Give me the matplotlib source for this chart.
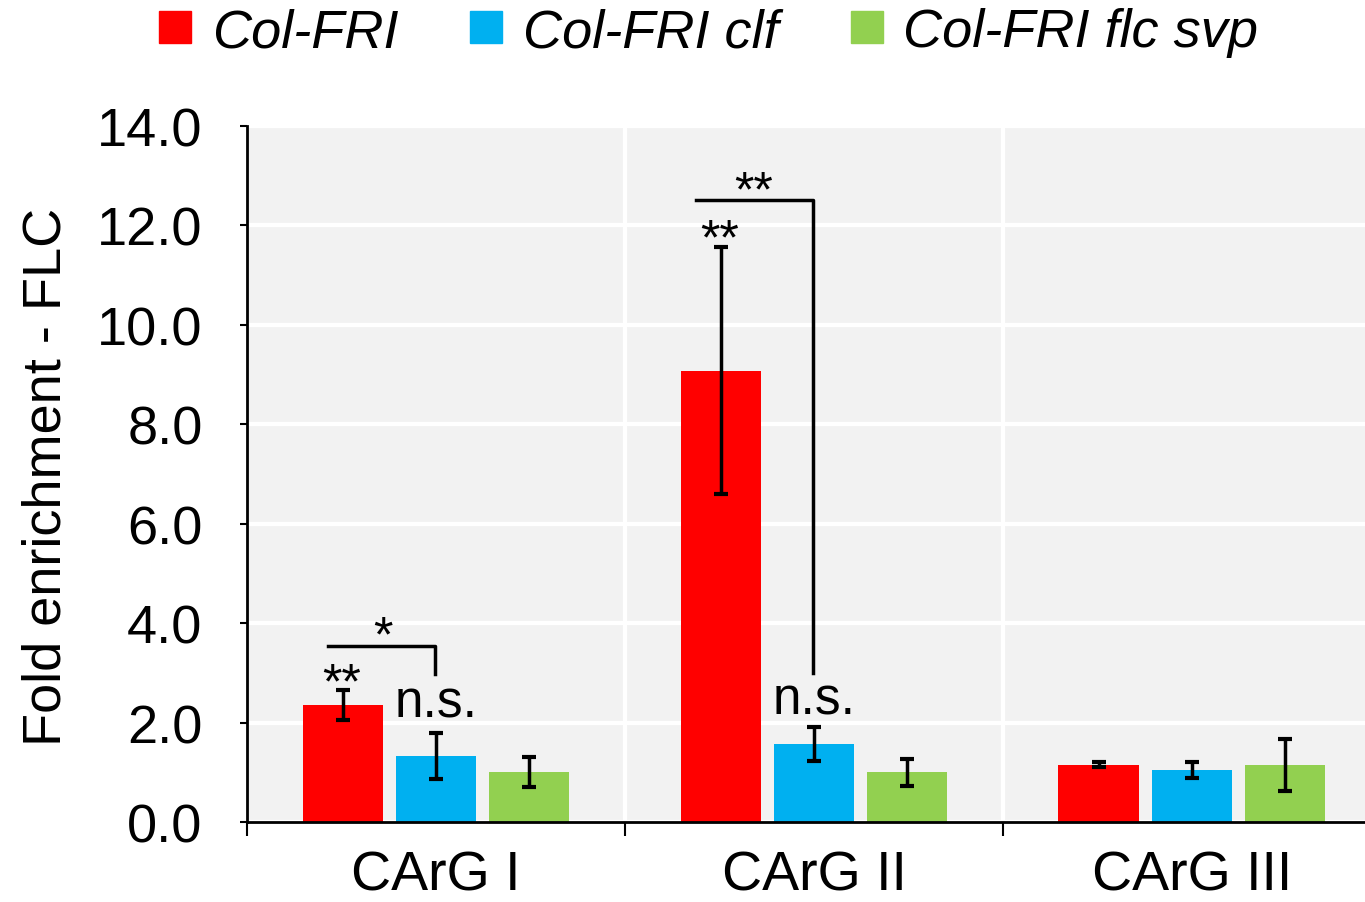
import numpy as np
import matplotlib
matplotlib.use("Agg")
import matplotlib.pyplot as plt
from matplotlib.lines import Line2D

plt.rcParams['font.family'] = ['Liberation Sans', 'DejaVu Sans']

# ---- data -------------------------------------------------------------
groups = ["CArG I", "CArG II", "CArG III"]
genotypes = ["Col-FRI", "Col-FRI clf", "Col-FRI flc svp"]
colors = ["#ff0000", "#00b0f0", "#92d050"]

col_fri = [2.35, 9.08, 1.15]
col_fri_err = [0.30, 2.48, 0.05]
col_fri_clf = [1.33, 1.57, 1.05]
col_fri_clf_err = [0.46, 0.35, 0.16]
col_fri_flc_svp = [1.00, 1.00, 1.14]
col_fri_flc_svp_err = [0.30, 0.27, 0.52]

means = [col_fri, col_fri_clf, col_fri_flc_svp]
errs = [col_fri_err, col_fri_clf_err, col_fri_flc_svp_err]

# ---- figure -----------------------------------------------------------
fig = plt.figure(figsize=(13.65, 9.03), dpi=100)
ax = fig.add_axes([0.181, 0.0886, 0.819, 0.7708])
ax.set_facecolor("#f2f2f2")

x = np.arange(len(groups))
width = 0.212
step = 0.247
for i in range(3):
    ax.bar(x + (i - 1) * step, means[i], width, color=colors[i], zorder=3)
    ax.errorbar(x + (i - 1) * step, means[i], yerr=errs[i], fmt="none",
                ecolor="black", elinewidth=2.5, capsize=5, capthick=3, zorder=4)

ax.set_ylim(0, 14)
ax.set_xlim(-0.5, 2.458)
ax.set_yticks(np.arange(0, 14.1, 2))
ax.set_yticklabels([f"{v:.1f}" for v in np.arange(0, 14.1, 2)])
ax.yaxis.grid(True, color="white", linewidth=3, zorder=0)
for b in [0.5, 1.5]:
    ax.axvline(b, color="white", linewidth=3, zorder=1)

ax.set_xticks([-0.5, 0.5, 1.5])
ax.set_xticklabels([])
ax.set_xticks(x, minor=True)
ax.set_xticklabels(groups, minor=True)
ax.tick_params(axis="x", which="minor", length=0, pad=20, labelsize=40)
ax.tick_params(axis="x", which="major", length=10, width=1.5, direction="out")
ax.tick_params(axis="y", length=5, width=1.5, labelsize=39, pad=27)

for s in ["top", "right"]:
    ax.spines[s].set_visible(False)
for s in ["left", "bottom"]:
    ax.spines[s].set_linewidth(2)
    ax.spines[s].set_zorder(5)

ax.set_ylabel("Fold enrichment - FLC", fontsize=39)
ax.yaxis.set_label_coords(-0.157, 0.497)

# ---- significance annotations ----------------------------------------
ax.plot([-0.286, -0.003, -0.003], [3.54, 3.54, 2.98], color="black", lw=2.5, zorder=5)
ax.text(-0.14, 3.45, "*", ha="center", va="baseline", fontsize=36)
ax.text(-0.25, 2.51, "**", ha="center", va="baseline", fontsize=36)
ax.text(0.0, 2.12, "n.s.", ha="center", va="baseline", fontsize=37)

ax.plot([0.688, 0.998, 0.998], [12.51, 12.51, 3.0], color="black", lw=2.5, zorder=5)
ax.text(0.84, 12.40, "**", ha="center", va="baseline", fontsize=36)
ax.text(0.75, 11.44, "**", ha="center", va="baseline", fontsize=36)
ax.text(1.0, 2.18, "n.s.", ha="center", va="baseline", fontsize=37)

# ---- legend -----------------------------------------------------------
handles = [Line2D([0], [0], marker="s", linestyle="none", markersize=23,
                  markerfacecolor=c, markeredgecolor=c) for c in colors]
fig.legend(handles, genotypes, loc="center", ncol=3, frameon=False,
           bbox_to_anchor=(0.519, 0.963), prop={"style": "italic", "size": 39},
           handletextpad=0.37, columnspacing=1.33, handlelength=0.6)

fig.savefig("out.png", dpi=100)
